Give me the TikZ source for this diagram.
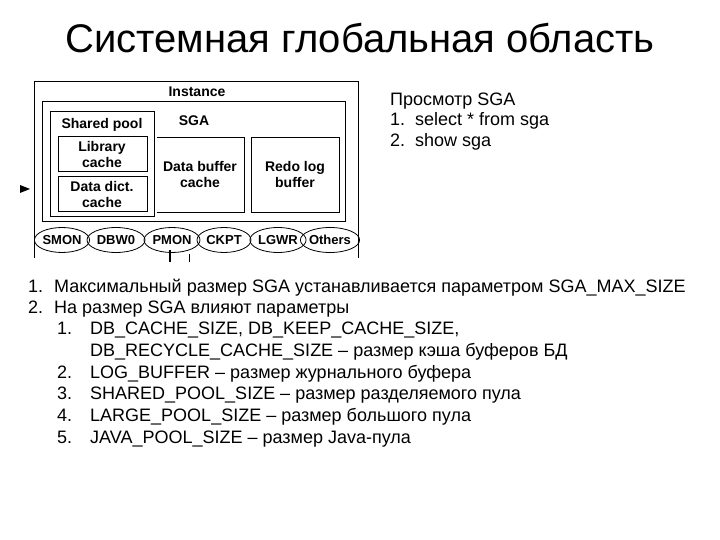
\documentclass[tikz,border=0pt]{standalone}
\usepackage{fontspec}
\usetikzlibrary{shapes.geometric}
\setmainfont{Liberation Sans}
\begin{document}
\begin{tikzpicture}[x=1pt,y=-1pt,
  bx/.style={draw,line width=1pt,inner sep=0pt},
  lbl/.style={font=\fontsize{14}{16}\selectfont\bfseries,align=center},
  proc/.style={draw,ellipse,line width=0.8pt,minimum height=25pt,inner sep=0pt,font=\fontsize{13}{15}\selectfont\bfseries},
  txt/.style={anchor=base west,font=\fontsize{18}{22}\selectfont,inner sep=0pt}]
\useasboundingbox (0,0) rectangle (720,540);
\node (title) at (360,38) {\fontsize{40}{46}\selectfont Системная глобальная область};
\draw[line width=1pt] (34,258) -- (34,82) -- (358,82) -- (358,258);
\node[lbl] (inst) at (197,92) {Instance};
\draw[bx] (42,102) rectangle (345,222);
\node[lbl] (sga) at (194,121) {SGA};
\draw[bx] (50,112) rectangle (154,217);
\node[lbl] (sp) at (102,125) {Shared pool};
\draw[bx] (58,137) rectangle (147,172);
\node[lbl] (lc) at (102,154) {Library\\cache};
\draw[bx] (58,177) rectangle (147,212);
\node[lbl] (dd) at (102,194) {Data dict.\\cache};
\draw[bx] (157,138) -- (244,138) -- (244,213) -- (157,213);
\node[lbl] (db) at (200,174) {Data buffer\\cache};
\draw[bx] (251,138) rectangle (339,213);
\node[lbl] (rl) at (295,174) {Redo log\\buffer};
\node[proc,minimum width=52pt] (p1) at (62,240) {SMON};
\node[proc,minimum width=58pt] (p2) at (116,240) {DBW0};
\node[proc,minimum width=56pt] (p3) at (172,240) {PMON};
\node[proc,minimum width=54pt] (p4) at (224,240) {CKPT};
\node[proc,minimum width=54pt] (p5) at (278,240) {LGWR};
\node[proc,minimum width=50pt] (p6) at (330,240) {Others};
\fill (20,185) -- (30,189) -- (20,193) -- cycle;
\draw[line width=2pt] (170,250) -- (170,262);
\draw[line width=1pt] (189,254) -- (189,262);
\node[txt] (r0) at (390,106) {Просмотр SGA};
\node[txt] (r1) at (390,126) {1.\ \ select * from sga};
\node[txt] (r2) at (390,147) {2.\ \ show sga};
\node[txt] (n1) at (28,292) {1.};
\node[txt] (t1) at (54,292) {Максимальный размер SGA устанавливается параметром SGA\_MAX\_SIZE};
\node[txt] (n2) at (28,313) {2.};
\node[txt] (t2) at (54,313) {На размер SGA влияют параметры};
\node[txt] (m1) at (57,334) {1.};
\node[txt] (s1) at (90,334) {DB\_CACHE\_SIZE, DB\_KEEP\_CACHE\_SIZE,};
\node[txt] (s1b) at (90,356) {DB\_RECYCLE\_CACHE\_SIZE – размер кэша буферов БД};
\node[txt] (m2) at (57,378) {2.};
\node[txt] (s2) at (90,378) {LOG\_BUFFER – размер журнального буфера};
\node[txt] (m3) at (57,399) {3.};
\node[txt] (s3) at (90,399) {SHARED\_POOL\_SIZE – размер разделяемого пула};
\node[txt] (m4) at (57,421) {4.};
\node[txt] (s4) at (90,421) {LARGE\_POOL\_SIZE – размер большого пула};
\node[txt] (m5) at (57,443) {5.};
\node[txt] (s5) at (90,443) {JAVA\_POOL\_SIZE – размер Java-пула};
\end{tikzpicture}
\end{document}
